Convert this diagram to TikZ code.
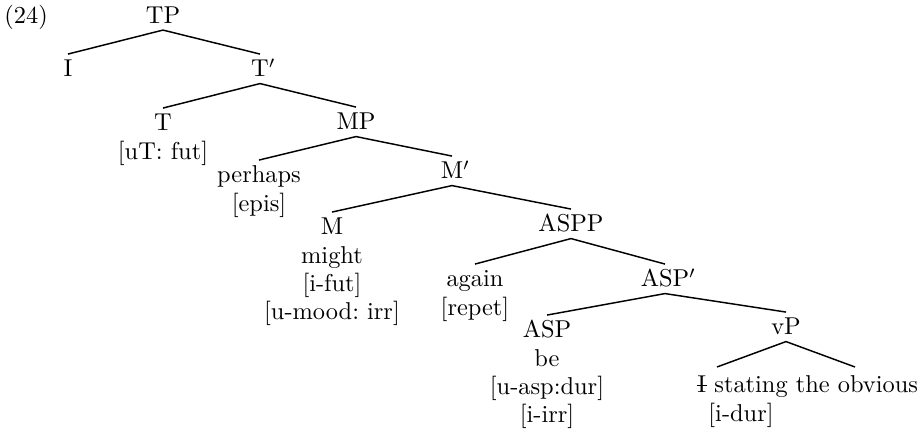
\documentclass[tikz,border=0pt]{standalone}
\newcommand{\Istroke}{\ooalign{I\cr\hidewidth\rule[0.3em]{0.42em}{0.045em}\hidewidth\cr}}
\newcommand{\stk}[1]{\begin{tabular}[t]{@{}c@{}}#1\end{tabular}}
\newcommand{\stkl}[1]{\begin{tabular}[t]{@{}l@{}}#1\end{tabular}}
\begin{document}
\begin{tikzpicture}[x=0.41pt,y=-0.41pt,
  lab/.style={anchor=base,inner sep=0pt,font=\fontsize{10}{11.5}\selectfont\frenchspacing},
  edge/.style={line width=0.6pt}]
\useasboundingbox (0,0) rectangle (918,430);
\node[lab,anchor=base west] (ex) at (4,24) {(24)};
\node[lab] (TP) at (163,23.5) {TP};
\node[lab] (I) at (68,77) {I};
\node[lab] (Tb) at (260,77) {T\rlap{$'$}};
\node[lab] (T) at (163,131) {\stk{T\\{}[uT: fut]}};
\node[lab] (MP) at (356,130) {MP};
\node[lab] (perhaps) at (259,183) {\stk{perhaps\\{}[epis]}};
\node[lab] (Mb) at (452,179) {M\rlap{$'$}};
\node[lab] (M) at (332,235) {\stk{M\\might\\{}[i-fut]\\{}[u-mood: irr]}};
\node[lab] (ASPP) at (571,232) {ASPP};
\node[lab] (again) at (475,287) {\stk{again\\{}[repet]}};
\node[lab] (ASPb) at (665,287) {ASP\rlap{$'$}};
\node[lab] (ASP) at (547,338) {\stk{ASP\\be\\{}[u-asp:dur]\\{}[i-irr]}};
\node[lab] (vP) at (786,335) {vP};
\node[lab,anchor=base west] (leaf) at (697,393) {\stkl{\Istroke{} stating the obvious\\\hspace{4.5pt}[i-dur]}};
\coordinate (leafL) at (717,367);
\coordinate (leafR) at (855,367);
\draw[edge] ([yshift=-2.7pt]TP.base) -- ([yshift=9.4pt]I.base);
\draw[edge] ([yshift=-2.7pt]TP.base) -- ([yshift=9.4pt]Tb.base);
\draw[edge] ([yshift=-2.7pt]Tb.base) -- ([yshift=9.4pt]T.base);
\draw[edge] ([yshift=-2.7pt]Tb.base) -- ([yshift=9.4pt]MP.base);
\draw[edge] ([yshift=-2.7pt]MP.base) -- ([yshift=9.4pt]perhaps.base);
\draw[edge] ([yshift=-2.7pt]MP.base) -- ([yshift=9.4pt]Mb.base);
\draw[edge] ([yshift=-2.7pt]Mb.base) -- ([yshift=9.4pt]M.base);
\draw[edge] ([yshift=-2.7pt]Mb.base) -- ([yshift=9.4pt]ASPP.base);
\draw[edge] ([yshift=-2.7pt]ASPP.base) -- ([yshift=9.4pt]again.base);
\draw[edge] ([yshift=-2.7pt]ASPP.base) -- ([yshift=9.4pt]ASPb.base);
\draw[edge] ([yshift=-2.7pt]ASPb.base) -- ([yshift=9.4pt]ASP.base);
\draw[edge] ([yshift=-2.7pt]ASPb.base) -- ([yshift=9.4pt]vP.base);
\draw[edge] ([yshift=-2.7pt]vP.base) -- (leafL);
\draw[edge] ([yshift=-2.7pt]vP.base) -- (leafR);
\end{tikzpicture}
\end{document}
